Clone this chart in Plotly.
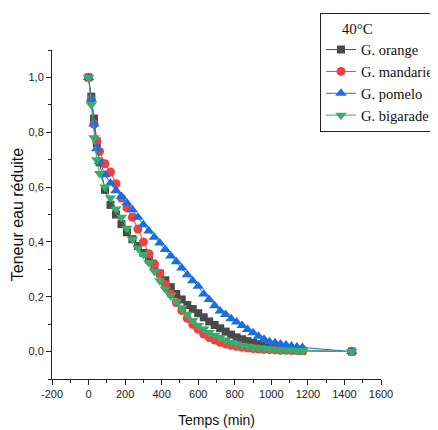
import plotly.graph_objects as go

times = [0, 15, 30, 45, 60] + list(range(90, 1171, 30)) + [1440]

orange = [1.0, 0.93, 0.85, 0.76, 0.69, 0.59, 0.535, 0.50, 0.465, 0.435, 0.41, 0.385, 0.36,
          0.335, 0.31, 0.285, 0.26, 0.235, 0.21, 0.19, 0.17, 0.155, 0.14, 0.125, 0.11,
          0.097, 0.085, 0.073, 0.062, 0.052, 0.045, 0.038, 0.032, 0.027, 0.022, 0.018,
          0.015, 0.012, 0.009, 0.007, 0.005, 0.003, 0.0]
mandarine = [1.0, 0.92, 0.83, 0.77, 0.73, 0.685, 0.655, 0.612, 0.56, 0.524, 0.49, 0.447,
             0.40, 0.357, 0.32, 0.284, 0.245, 0.21, 0.178, 0.15, 0.121, 0.099, 0.081,
             0.064, 0.051, 0.042, 0.034, 0.028, 0.023, 0.019, 0.016, 0.013, 0.011, 0.009,
             0.008, 0.007, 0.006, 0.005, 0.005, 0.004, 0.004, 0.003, 0.0]
pomelo = [1.0, 0.92, 0.83, 0.74, 0.693, 0.645, 0.614, 0.587, 0.566, 0.542, 0.517, 0.49,
          0.463, 0.44, 0.417, 0.396, 0.372, 0.349, 0.328, 0.305, 0.28, 0.258, 0.238, 0.21,
          0.19, 0.167, 0.148, 0.135, 0.12, 0.108, 0.095, 0.081, 0.069, 0.056, 0.045, 0.036,
          0.032, 0.028, 0.024, 0.02, 0.017, 0.015, 0.0]
bigarade = [1.0, 0.90, 0.78, 0.70, 0.65, 0.60, 0.56, 0.52, 0.49, 0.45, 0.41, 0.378, 0.354,
            0.324, 0.293, 0.258, 0.228, 0.205, 0.182, 0.16, 0.136, 0.113, 0.095, 0.082,
            0.07, 0.059, 0.051, 0.042, 0.034, 0.028, 0.023, 0.019, 0.016, 0.013, 0.011,
            0.009, 0.008, 0.007, 0.006, 0.005, 0.004, 0.004, 0.0]

x_tickvals = [-200, 0, 200, 400, 600, 800, 1000, 1200, 1400, 1600]
x_ticktext = ["-200", "0", "200", "400", "600", "800", "1000", "1200", "1400", "1600"]
y_tickvals = [0.0, 0.2, 0.4, 0.6, 0.8, 1.0]
y_ticktext = ["0,0", "0,2", "0,4", "0,6", "0,8", "1,0"]

series = [
    ("G. orange", orange, "#4a4a4a", "square", 8),
    ("G. mandarie", mandarine, "#F14040", "circle", 9),
    ("G. pomelo", pomelo, "#1A6FDF", "triangle-up", 10),
    ("G. bigarade", bigarade, "#37AD6B", "triangle-down", 10),
]

fig = go.Figure()
for name, vals, col, sym, sz in series:
    fig.add_trace(go.Scatter(
        x=times, y=vals, name=name, mode="lines+markers",
        line=dict(color=col, width=1),
        marker=dict(symbol=sym, size=sz, color=col, line=dict(width=0)),
    ))

sans = "Liberation Sans, Arial, sans-serif"
serif = "Liberation Serif, Times New Roman, serif"
axis_font = dict(family=sans, size=11, color="#222")
fig.update_layout(
    width=430, height=422,
    margin=dict(l=44, r=57, t=42, b=51, autoexpand=False),
    paper_bgcolor="white", plot_bgcolor="white",
    showlegend=True,
    legend=dict(
        x=0.8146, y=1.112, xanchor="left", yanchor="top",
        bordercolor="#222", borderwidth=1, bgcolor="white",
        font=dict(family=serif, size=14.5, color="#111"),
        title=dict(text="\u00a0\u00a0\u00a0\u00a0\u00a040°C", font=dict(family=serif, size=15, color="#111")),
        itemwidth=30,
    ),
    xaxis=dict(
        range=[-200, 1600], tickvals=x_tickvals, ticktext=x_ticktext, showgrid=False,
        zeroline=False, showline=True, linecolor="#222", linewidth=1, ticks="outside",
        ticklen=5, tickcolor="#222", tickfont=axis_font, automargin=False,
        minor=dict(dtick=100, tick0=-200, ticks="outside", ticklen=3, tickcolor="#222"),
        title=dict(text="Temps (min)", font=dict(family=sans, size=14, color="#111"), standoff=15),
    ),
    yaxis=dict(
        range=[-0.1, 1.1], tickvals=y_tickvals, ticktext=y_ticktext, showgrid=False,
        zeroline=False, showline=True, linecolor="#222", linewidth=1, ticks="outside",
        ticklen=5, tickcolor="#222", tickfont=axis_font, automargin=False,
        minor=dict(dtick=0.1, tick0=0, ticks="outside", ticklen=3, tickcolor="#222"),
        title=dict(text="Teneur eau réduite", font=dict(family=sans, size=16, color="#111"), standoff=0),
    ),
)

fig.write_html("out.html")
